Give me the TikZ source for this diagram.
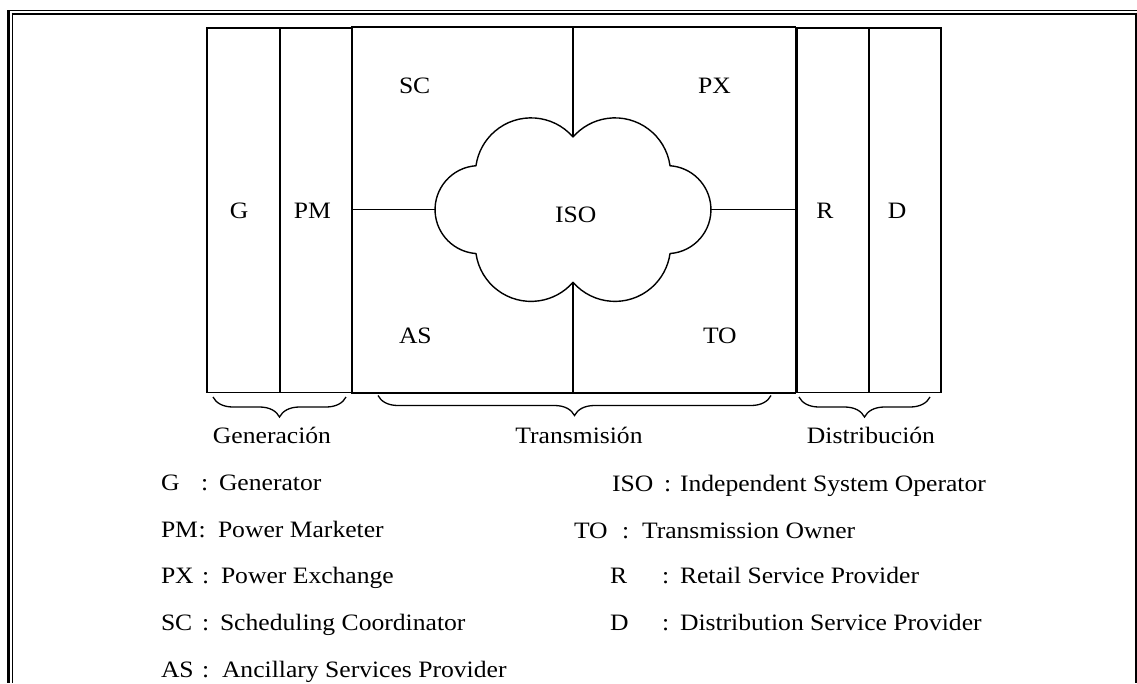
\documentclass[tikz,border=0pt]{standalone}
\usepackage{fontspec}
\setmainfont{Liberation Serif}[FakeStretch=1.09]
\usetikzlibrary{decorations.pathreplacing}

% one legend row: id, x of label, x of colon, x of text, baseline, label, text
\newcommand\legendrow[7]{%
  \node[txt,anchor=base west] (#1-l) at (#2,-#5) {#6};
  \node[txt,anchor=base west] (#1-c) at (#3,-#5) {:};
  \node[txt,anchor=base west] (#1-d) at (#4,-#5) {#7};}

\begin{document}
\begin{tikzpicture}[x=1pt,y=1pt,
  txt/.style={inner sep=0pt,outer sep=0pt,font=\fontsize{23.5}{28}\selectfont},
  box/.style={draw,line width=1.6pt,inner sep=0pt,outer sep=0pt},
  ln/.style={line width=1.6pt},
  cloudline/.style={line width=1.4pt,line join=round},
  brc/.style={line width=1.3pt,decorate,decoration={brace,mirror,amplitude=20pt}}]

\useasboundingbox (0,0) rectangle (1137,-683);

% page frame (double rule, left, top and right)
\draw[line width=1.4pt] (7.3,-10.7) -- (1137,-10.7);
\draw[line width=2.7pt] (8.6,-10) -- (8.6,-683);
\draw[line width=2pt] (11.7,-13.7) -- (1137,-13.7);
\draw[line width=1.1pt] (12.2,-12.7) -- (12.2,-683);
\draw[line width=2pt] (1136,-12.7) -- (1136,-683);

% the three market blocks
\node[box,minimum width=145pt,minimum height=364.5pt] (gbox) at (279.5,-210.05) {};
\node[box,minimum width=443.5pt,minimum height=366.2pt] (tbox) at (573.75,-209.9) {};
\node[box,minimum width=144pt,minimum height=364.5pt] (dbox) at (869,-210.05) {};

\coordinate (gdiv) at (280,0);
\coordinate (ddiv) at (869,0);
\draw[ln] (gdiv |- gbox.north) -- (gdiv |- gbox.south);
\draw[ln] (ddiv |- dbox.north) -- (ddiv |- dbox.south);

% ISO cloud
\draw[cloudline,fill=white] (573,-137)
  arc[start angle=41,end angle=172,radius=55.6pt]
  arc[start angle=94,end angle=266,radius=44pt]
  arc[start angle=188,end angle=319,radius=55.6pt]
  arc[start angle=221,end angle=352,radius=55.6pt]
  arc[start angle=-86,end angle=86,radius=44pt]
  arc[start angle=8,end angle=139,radius=55.6pt] -- cycle;
\coordinate (ct) at (573,-137);
\coordinate (cb) at (573,-282.3);
\coordinate (cl) at (435.05,-209.6);
\coordinate (cr) at (710.95,-209.6);

% quadrant dividers of the transmission block
\draw[ln] (ct |- tbox.north) -- (ct);
\draw[ln] (cb) -- (cb |- tbox.south);
\draw[ln] (tbox.west |- cl) -- (cl);
\draw[ln] (cr) -- (tbox.east |- cr);

% block labels
\node[txt,anchor=base] (g) at (239,-218) {G};
\node[txt,anchor=base] (pm) at (312.5,-218) {PM};
\node[txt,anchor=base west] (sc) at (399,-93) {SC};
\node[txt,anchor=base west] (px) at (698,-93) {PX};
\node[txt,anchor=base west] (iso) at (555,-222) {ISO};
\node[txt,anchor=base west] (as) at (399,-343) {AS};
\node[txt,anchor=base west] (to) at (703,-343) {TO};
\node[txt,anchor=base] (r) at (825,-218) {R};
\node[txt,anchor=base] (d) at (897,-218) {D};

% sector braces
\coordinate (gb1) at (213,-397);
\coordinate (gb2) at (346,-397);
\coordinate (tb1) at (378,-395.5);
\coordinate (tb2) at (771,-395.5);
\coordinate (db1) at (799,-397);
\coordinate (db2) at (930,-397);
\draw[brc] (gb1) -- (gb2);
\draw[brc] (tb1) -- (tb2);
\draw[brc] (db1) -- (db2);
\node[txt,anchor=base] (gen) at (272,-443) {Generación};
\node[txt,anchor=base] (tra) at (579,-443) {Transmisión};
\node[txt,anchor=base] (dis) at (871,-443) {Distribución};

% legend
\legendrow{lg}{161}{201}{219}{490}{G}{Generator}
\legendrow{lpm}{161}{198.5}{218}{537}{PM}{Power Marketer}
\legendrow{lpx}{161}{202}{221}{583}{PX}{Power Exchange}
\legendrow{lsc}{161}{202}{220}{630}{SC}{Scheduling Coordinator}
\legendrow{las}{161}{202}{222}{677}{AS}{Ancillary Services Provider}
\legendrow{liso}{612}{664}{680}{491}{ISO}{Independent System Operator}
\legendrow{lto}{574}{622}{642}{538}{TO}{Transmission Owner}
\legendrow{lr}{610}{662}{680}{583}{R}{Retail Service Provider}
\legendrow{ld}{610}{662}{680}{630}{D}{Distribution Service Provider}
\end{tikzpicture}
\end{document}
